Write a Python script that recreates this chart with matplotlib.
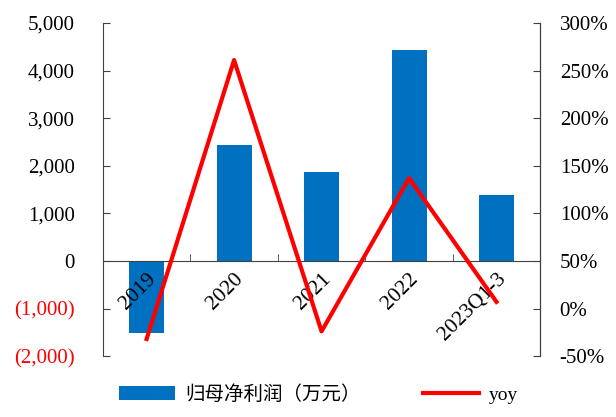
import matplotlib.pyplot as plt
from matplotlib.ticker import FuncFormatter
import numpy as np

categories = ["2019", "2020", "2021", "2022", "2023Q1-3"]
net_profit = [-1510, 2440, 1870, 4430, 1390]   # 万元
yoy = [-32, 261, -24, 137, 7]                  # %

BLUE = '#0070C0'
RED = '#FF0000'

plt.rcParams['font.family'] = ['Liberation Serif', 'Noto Sans CJK SC']

fig = plt.figure(figsize=(6.16, 4.17), dpi=100)
ax = fig.add_axes([0.167, 0.146, 0.710, 0.799])
ax2 = ax.twinx()
ax.set_axisbelow(False)  # year labels drawn over the bars

x = np.arange(len(categories))
bars = ax.bar(x, net_profit, width=0.4, color=BLUE, zorder=2, label='归母净利润（万元）')
line, = ax2.plot(x, yoy, color=RED, linewidth=3, zorder=3, label='yoy')

ax.set_xlim(-0.5, len(categories) - 0.5)
ax.set_ylim(-2000, 5000)
ax.set_yticks(np.arange(-2000, 5001, 1000))


def thousands(v, pos):
    if v < 0:
        return f'({abs(int(v)):,})'
    return f'{int(v):,}'


ax.yaxis.set_major_formatter(FuncFormatter(thousands))
for lbl, v in zip(ax.get_yticklabels(), ax.get_yticks()):
    if v < 0:
        lbl.set_color(RED)

ax2.set_ylim(-50, 300)
ax2.set_yticks(np.arange(-50, 301, 50))
ax2.yaxis.set_major_formatter(FuncFormatter(lambda v, p: f'{int(v)}%'))

# x axis sits on the zero line
ax.spines['bottom'].set_position(('data', 0))
ax.spines['top'].set_visible(False)
ax2.spines['top'].set_visible(False)
ax2.spines['bottom'].set_visible(False)
ax2.spines['left'].set_visible(False)
for sp in ['left', 'bottom']:
    ax.spines[sp].set_color('#404040')
ax2.spines['right'].set_color('#404040')

ax.set_xticks(x)
ax.set_xticklabels(categories, rotation=45, ha='right', va='top', rotation_mode='anchor')
ax.set_xticks(np.arange(-0.5, len(categories), 1), minor=True)
ax.tick_params(axis='x', which='major', length=0, pad=6, labelsize=15.5)
ax.tick_params(axis='x', which='minor', direction='in', length=5, color='#404040')
ax.tick_params(axis='y', direction='in', length=5, color='#404040', labelsize=15, pad=20)
ax2.tick_params(axis='y', direction='in', length=5, color='#404040', labelsize=15, pad=14)

fig.legend(handles=[bars, line], loc='lower center', bbox_to_anchor=(0.517, -0.01), ncol=2,
           frameon=False, handlelength=2.9, columnspacing=3.2, handletextpad=0.5,
           prop={'family': ['Liberation Serif', 'Noto Sans CJK SC'], 'size': 14})

fig.savefig('out.png', dpi=100)
